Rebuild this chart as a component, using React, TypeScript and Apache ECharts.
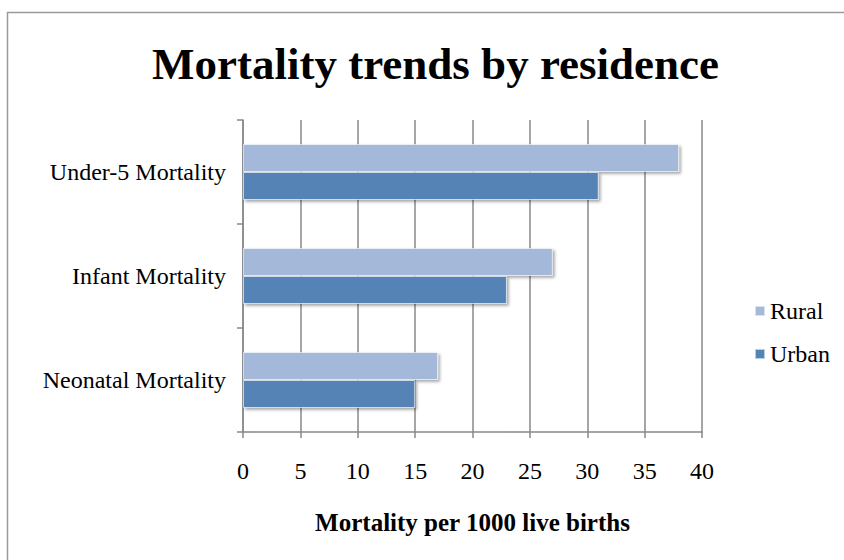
import React, { useEffect, useRef } from "react";
import * as echarts from "echarts";

const categories = ["Under-5 Mortality", "Infant Mortality", "Neonatal Mortality"];
const ruralValues = [38, 27, 17];
const urbanValues = [31, 23, 15];
const seriesNames = ["Rural", "Urban"];
const titleText = "Mortality trends by residence";
const xAxisName = "Mortality per 1000 live births";

const FONT = "'Liberation Serif', 'DejaVu Serif', serif";

export default function App() {
  const ref = useRef<HTMLDivElement>(null);
  useEffect(() => {
    if (!ref.current) return;
    const chart = echarts.init(ref.current, null, { renderer: "svg" });
    const barStyle = (color: string) => ({
      color,
      borderColor: "rgba(255,255,255,0.6)",
      borderWidth: 1,
      shadowBlur: 3,
      shadowOffsetX: 2,
      shadowOffsetY: 2,
      shadowColor: "rgba(0,0,0,0.35)",
    });
    chart.setOption({
      animation: false,
      backgroundColor: "#ffffff",
      title: {
        text: titleText,
        left: 147,
        top: 36,
        textStyle: { fontFamily: FONT, fontSize: 45, fontWeight: "bold", color: "#000" },
      },
      graphic: [
        {
          type: "rect",
          shape: { x: 7.5, y: 12.5, width: 900, height: 700 },
          style: { fill: "none", stroke: "#9a9a9a", lineWidth: 1.5 },
          silent: true,
        },
      ],
      legend: {
        orient: "vertical",
        left: 749,
        top: 294,
        itemWidth: 10,
        itemHeight: 10,
        itemGap: 19,
        icon: "rect",
        data: seriesNames,
        textStyle: { fontFamily: FONT, fontSize: 24, color: "#000" },
      },
      grid: { left: 243, right: 142, top: 120, bottom: 128, containLabel: false },
      xAxis: {
        type: "value",
        min: 0,
        max: 40,
        interval: 5,
        name: xAxisName,
        nameLocation: "middle",
        nameGap: 78,
        nameTextStyle: { fontFamily: FONT, fontSize: 25, fontWeight: "bold", color: "#000" },
        axisLine: { show: true, lineStyle: { color: "#888", width: 1.5 } },
        axisTick: { show: true, length: 6, lineStyle: { color: "#888", width: 1.5 } },
        axisLabel: { fontFamily: FONT, fontSize: 24, color: "#000", margin: 27 },
        splitLine: { show: true, lineStyle: { color: "#888", width: 1.5 } },
      },
      yAxis: {
        type: "category",
        inverse: true,
        data: categories,
        axisLine: { show: true, lineStyle: { color: "#888", width: 1.5 } },
        axisTick: { show: true, length: 6, lineStyle: { color: "#888", width: 1.5 } },
        axisLabel: { fontFamily: FONT, fontSize: 24, color: "#000", margin: 17 },
      },
      series: [
        {
          name: seriesNames[0],
          type: "bar",
          data: ruralValues,
          barWidth: 28,
          barGap: "0%",
          itemStyle: barStyle("#a4b8da"),
        },
        {
          name: seriesNames[1],
          type: "bar",
          data: urbanValues,
          barWidth: 28,
          barGap: "0%",
          itemStyle: barStyle("#5483b5"),
        },
      ],
    });
    return () => chart.dispose();
  }, []);
  return (
    <div
      ref={ref}
      style={{ position: "absolute", left: 0, top: 0, width: 844, height: 560 }}
    />
  );
}
